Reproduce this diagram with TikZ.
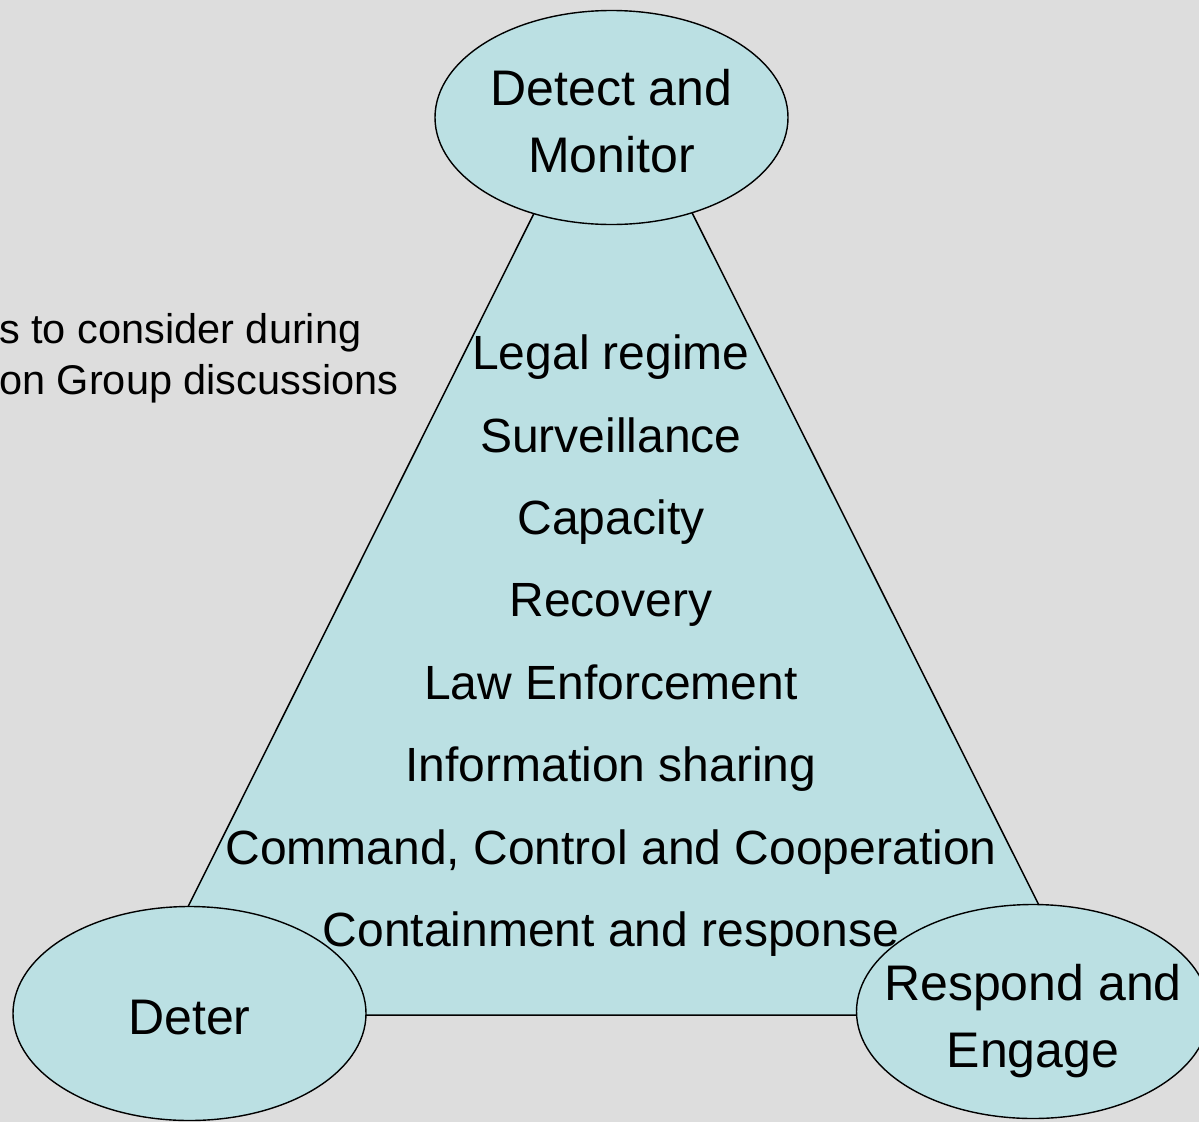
\documentclass[tikz,border=0pt]{standalone}
\usepackage{fontspec}
\setmainfont{Liberation Sans}
\usetikzlibrary{shapes.geometric}
\definecolor{slidegray}{RGB}{221,221,221}
\definecolor{paleteal}{RGB}{187,224,227}

\begin{document}
\begin{tikzpicture}[x=1pt,y=-1pt]
  \tikzset{stage/.style={ellipse, draw=black, line width=1.4pt, fill=paleteal, minimum width=353pt, minimum height=214pt}}
  \tikzset{stagetext/.style={align=center, font=\fontsize{50}{67}\selectfont}}
  \tikzset{issue/.style={font=\fontsize{48}{58}\selectfont, execute at begin node=\strut}}
  \useasboundingbox (0,0) rectangle (1199,1122);
  \fill[slidegray] (0,0) rectangle (1199,1122);
  \clip (0,0) rectangle (1199,1122);
  % heading, cut off at the left edge
  \node (heading) [anchor=north west, inner sep=0pt, align=left, font=\fontsize{41.5}{51}\selectfont] at (-1,313) {s to consider during\\on Group discussions};
  % triangle behind the three stages
  \coordinate (apex) at (613,55);
  \coordinate (leftfoot) at (134,1015);
  \coordinate (rightfoot) at (1094,1015);
  \draw[line width=1.5pt, fill=paleteal] (apex) -- (leftfoot) -- (rightfoot) -- cycle;
  \foreach \txt [count=\i] in {Legal regime, Surveillance, Capacity, Recovery, Law Enforcement, Information sharing, {Command, Control and Cooperation}, Containment and response}
    \node (issue\i) [issue] at (611, 275.6+82.4*\i) {\txt};
  % stages
  \node (detect) [stage] at (611.5,117.5) {};
  \node (deter) [stage] at (189.5,1013.5) {};
  \node (respond) [stage] at (1033,1011.5) {};
  \node (detect text) [stagetext, yshift=-4pt] at (detect) {Detect and\\Monitor};
  \node (deter text) [stagetext, yshift=-4pt] at (deter) {Deter};
  \node (respond text) [stagetext, yshift=-10pt] at (respond) {Respond and\\Engage};
\end{tikzpicture}
\end{document}
